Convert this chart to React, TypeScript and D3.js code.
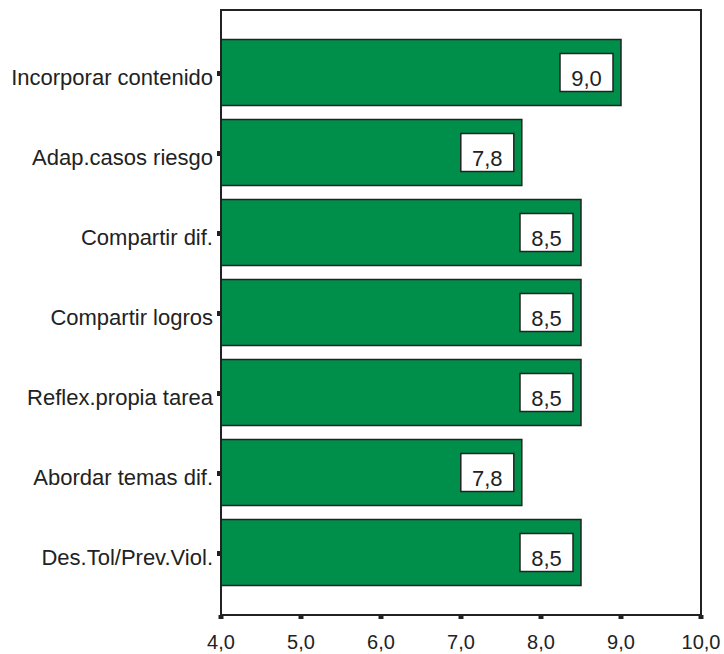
import * as d3 from 'd3';

const categories = [
  'Incorporar contenido',
  'Adap.casos riesgo',
  'Compartir dif.',
  'Compartir logros',
  'Reflex.propia tarea',
  'Abordar temas dif.',
  'Des.Tol/Prev.Viol.',
];
const values = [9.0, 7.76, 8.5, 8.5, 8.5, 7.76, 8.5];
const ticks = [4, 5, 6, 7, 8, 9, 10];

const width = 724;
const height = 654;
const margin = { top: 10, right: 23, bottom: 39, left: 221 };
const font = '"Liberation Sans", Arial, sans-serif';
const ink = '#222';
const green = '#008f4b';

const fmt = (v: number) => d3.format('.1f')(v).replace('.', ',');

export default function App() {
  const x = d3.scaleLinear()
    .domain([4, 10])
    .range([margin.left, width - margin.right]);

  const y = d3.scaleBand()
    .domain(categories)
    .range([margin.top, height - margin.bottom])
    .paddingInner(0.175)
    .paddingOuter(0.36875);

  const bottom = height - margin.bottom;
  const boxW = 53;
  const boxH = 38;

  return (
    <div style={{ position: 'absolute', left: 0, top: 0 }}>
      <svg width={width} height={height} style={{ display: 'block', background: '#fff' }}>
        {/* bars */}
        {categories.map((c, i) => {
          const yy = y(c) || 0;
          const bw = y.bandwidth();
          const xe = x(values[i]);
          const cy = yy + bw / 2;
          return (
            <g key={c}>
              <rect
                x={x(4)}
                y={yy}
                width={xe - x(4)}
                height={bw}
                fill={green}
                stroke={ink}
                strokeWidth={1.5}
              />
              <rect
                x={xe - 8 - boxW}
                y={cy - boxH / 2}
                width={boxW}
                height={boxH}
                fill="#fff"
                stroke={ink}
                strokeWidth={1.5}
              />
              <text
                x={xe - 8 - boxW / 2}
                y={cy + 13}
                textAnchor="middle"
                fontFamily={font}
                fontSize={22}
                fill={ink}
              >
                {fmt(values[i])}
              </text>
              {/* y tick */}
              <rect x={x(4) - 4} y={cy - 1.5} width={4} height={5} fill={ink} />
              <text
                x={x(4) - 8}
                y={cy + 12}
                textAnchor="end"
                fontFamily={font}
                fontSize={22}
                fill={ink}
              >
                {c}
              </text>
            </g>
          );
        })}

        {/* frame */}
        <rect
          x={x(4)}
          y={margin.top}
          width={x(10) - x(4)}
          height={bottom - margin.top}
          fill="none"
          stroke={ink}
          strokeWidth={2}
        />

        {/* x axis ticks */}
        {ticks.map(t => (
          <g key={t}>
            <rect x={x(t) - 2.5} y={bottom} width={5} height={4} fill={ink} />
            <text
              x={x(t)}
              y={bottom + 34}
              textAnchor="middle"
              fontFamily={font}
              fontSize={20}
              fill={ink}
            >
              {fmt(t)}
            </text>
          </g>
        ))}
      </svg>
    </div>
  );
}
